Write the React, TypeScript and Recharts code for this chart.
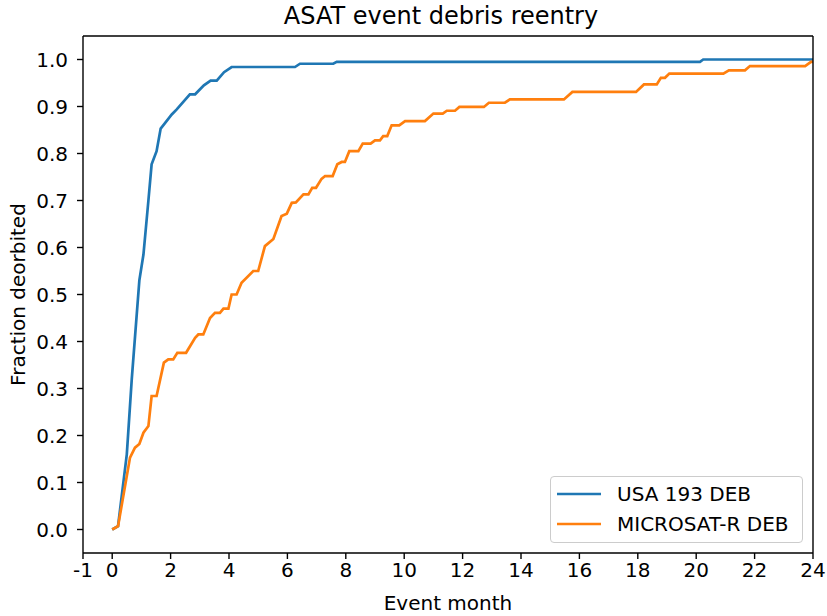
import React from 'react';
import { LineChart, Line, XAxis, YAxis, Legend, Label } from 'recharts';

const usaMonths = [0, 0.2, 0.5, 0.67, 0.93, 1.07, 1.24, 1.35, 1.52, 1.66, 2.04, 2.21, 2.66, 2.84, 3.14, 3.37, 3.58, 3.83, 4.09, 6.26, 6.43, 7.57, 7.69, 20.13, 20.24, 24];
const usaFraction = [0, 0.007, 0.16, 0.32, 0.53, 0.585, 0.7, 0.777, 0.805, 0.853, 0.883, 0.894, 0.926, 0.926, 0.945, 0.955, 0.955, 0.973, 0.984, 0.984, 0.991, 0.991, 0.995, 0.995, 1.0, 1.0];

const microMonths = [0, 0.2, 0.61, 0.78, 0.93, 1.07, 1.24, 1.35, 1.52, 1.77, 1.92, 2.09, 2.23, 2.53, 2.84, 2.95, 3.12, 3.35, 3.52, 3.69, 3.81, 3.98, 4.09, 4.26, 4.43, 4.83, 5.0, 5.23, 5.52, 5.8, 5.98, 6.15, 6.29, 6.55, 6.72, 6.85, 6.98, 7.17, 7.29, 7.55, 7.71, 7.86, 7.97, 8.12, 8.43, 8.58, 8.85, 9.0, 9.17, 9.28, 9.42, 9.57, 9.83, 10.03, 10.71, 11.0, 11.32, 11.46, 11.74, 11.89, 12.73, 12.9, 13.45, 13.62, 15.47, 15.76, 17.94, 18.21, 18.65, 18.79, 18.93, 19.08, 20.93, 21.12, 21.67, 21.84, 23.73, 23.93, 24];
const microFraction = [0, 0.007, 0.153, 0.174, 0.182, 0.206, 0.22, 0.284, 0.284, 0.355, 0.362, 0.362, 0.376, 0.376, 0.408, 0.415, 0.415, 0.45, 0.461, 0.461, 0.47, 0.47, 0.5, 0.5, 0.525, 0.55, 0.55, 0.603, 0.618, 0.667, 0.672, 0.695, 0.696, 0.713, 0.713, 0.727, 0.727, 0.746, 0.752, 0.752, 0.777, 0.782, 0.782, 0.805, 0.805, 0.821, 0.821, 0.828, 0.828, 0.837, 0.837, 0.86, 0.86, 0.869, 0.869, 0.885, 0.885, 0.891, 0.891, 0.899, 0.899, 0.908, 0.908, 0.915, 0.915, 0.931, 0.931, 0.947, 0.947, 0.961, 0.961, 0.97, 0.97, 0.977, 0.977, 0.986, 0.986, 0.995, 0.995];

const xTicks = [-1, 0, 2, 4, 6, 8, 10, 12, 14, 16, 18, 20, 22, 24];
const yTicks = [0, 0.1, 0.2, 0.3, 0.4, 0.5, 0.6, 0.7, 0.8, 0.9, 1.0];

const seriesNames = ['USA 193 DEB', 'MICROSAT-R DEB'];
const seriesColors = ['#1f77b4', '#ff7f0e'];
const titleText = 'ASAT event debris reentry';
const xLabelText = 'Event month';
const yLabelText = 'Fraction deorbited';

const usaData = usaMonths.map((m, i) => ({ month: m, value: usaFraction[i] }));
const microData = microMonths.map((m, i) => ({ month: m, value: microFraction[i] }));

const FONT = 'DejaVu Sans, sans-serif';
const FS = 20;

const renderTitle = (props: any) => {
  const vb = props.viewBox || {};
  return (
    <text x={vb.x + vb.width / 2 - 7} y={16} textAnchor="middle" dominantBaseline="central" fontSize={24} fontFamily={FONT} fill="#000">
      {titleText}
    </text>
  );
};

const renderXLabel = (props: any) => {
  const vb = props.viewBox || {};
  return (
    <text x={vb.x + vb.width / 2} y={603} textAnchor="middle" dominantBaseline="central" fontSize={FS} fontFamily={FONT} fill="#000">
      {xLabelText}
    </text>
  );
};

const renderYLabel = (props: any) => {
  const vb = props.viewBox || {};
  const cy = vb.y + vb.height / 2;
  return (
    <text x={18} y={cy} transform={`rotate(-90, 18, ${cy})`} textAnchor="middle" dominantBaseline="central" fontSize={FS} fontFamily={FONT} fill="#000">
      {yLabelText}
    </text>
  );
};

const renderLegend = () => (
  <div style={{ width: 253, height: 67, border: '1px solid #cccccc', borderRadius: 4, background: 'rgba(255,255,255,0.8)', boxSizing: 'border-box', fontFamily: FONT, fontSize: FS, color: '#000' }}>
    {seriesNames.map((n, i) => (
      <div key={n} style={{ display: 'flex', alignItems: 'center', height: 30, marginTop: i === 0 ? 2 : 0 }}>
        <svg width={56} height={10} style={{ marginLeft: 6 }}>
          <line x1={0} y1={5} x2={44} y2={5} stroke={seriesColors[i]} strokeWidth={2.7} />
        </svg>
        <span style={{ whiteSpace: 'nowrap', marginLeft: 4 }}>{n}</span>
      </div>
    ))}
  </div>
);

export default function App() {
  return (
    <div style={{ position: 'absolute', left: 0, top: 0, background: '#fff' }}>
      <LineChart width={827} height={616} margin={{ top: 0, right: 13, bottom: 0, left: 0 }}>
        <XAxis
          xAxisId="top"
          orientation="top"
          type="number"
          dataKey="month"
          domain={[-1, 24]}
          allowDataOverflow
          height={36}
          tick={false}
          tickLine={false}
          axisLine={{ stroke: '#000', strokeWidth: 1.4 }}
        >
          <Label content={renderTitle} />
        </XAxis>
        <XAxis
          xAxisId="main"
          type="number"
          dataKey="month"
          domain={[-1, 24]}
          ticks={xTicks}
          allowDataOverflow
          interval={0}
          height={63}
          tickSize={6}
          tickMargin={4}
          tick={{ fontSize: FS, fill: '#000', fontFamily: FONT }}
          tickLine={{ stroke: '#000', strokeWidth: 1.4 }}
          axisLine={{ stroke: '#000', strokeWidth: 1.4 }}
        >
          <Label content={renderXLabel} />
        </XAxis>
        <YAxis
          yAxisId="main"
          type="number"
          domain={[-0.05, 1.05]}
          ticks={yTicks}
          allowDataOverflow
          interval={0}
          width={83}
          tickSize={6}
          tickMargin={9}
          tickFormatter={(v: number) => v.toFixed(1)}
          tick={{ fontSize: FS, fill: '#000', fontFamily: FONT }}
          tickLine={{ stroke: '#000', strokeWidth: 1.4 }}
          axisLine={{ stroke: '#000', strokeWidth: 1.4 }}
        >
          <Label content={renderYLabel} />
        </YAxis>
        <YAxis
          yAxisId="right"
          orientation="right"
          type="number"
          domain={[-0.05, 1.05]}
          width={1}
          tick={false}
          tickLine={false}
          axisLine={{ stroke: '#000', strokeWidth: 1.4 }}
        />
        <Legend
          layout="vertical"
          align="center"
          verticalAlign="middle"
          content={renderLegend}
          wrapperStyle={{ position: 'absolute', left: 550, top: 476, width: 253, height: 67 }}
        />
        <Line
          xAxisId="main"
          yAxisId="main"
          data={usaData}
          dataKey="value"
          name={seriesNames[0]}
          type="linear"
          stroke={seriesColors[0]}
          strokeWidth={2.7}
          dot={false}
          activeDot={false}
          isAnimationActive={false}
        />
        <Line
          xAxisId="main"
          yAxisId="main"
          data={microData}
          dataKey="value"
          name={seriesNames[1]}
          type="linear"
          stroke={seriesColors[1]}
          strokeWidth={2.7}
          dot={false}
          activeDot={false}
          isAnimationActive={false}
        />
      </LineChart>
    </div>
  );
}
